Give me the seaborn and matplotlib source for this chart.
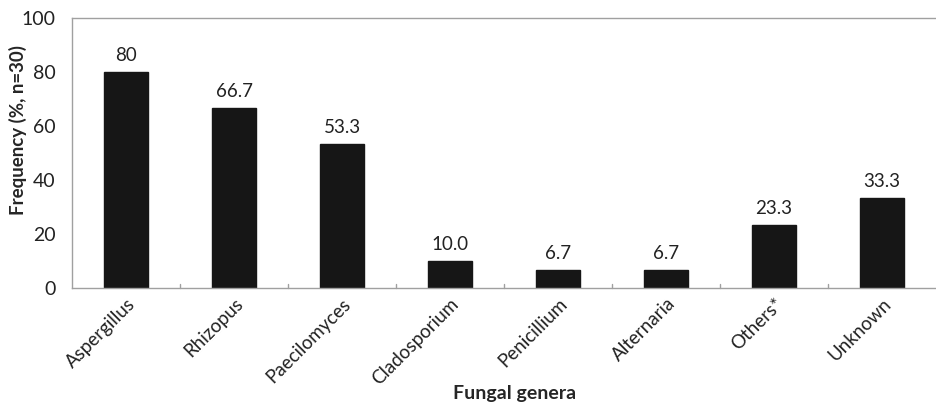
import matplotlib
matplotlib.use("Agg")
import matplotlib.pyplot as plt
import seaborn as sns
import pandas as pd

# Data
genera = ["Aspergillus", "Rhizopus", "Paecilomyces", "Cladosporium",
          "Penicillium", "Alternaria", "Others*", "Unknown"]
frequency = [80, 66.7, 53.3, 10.0, 6.7, 6.7, 23.3, 33.3]
value_labels = ["80", "66.7", "53.3", "10.0", "6.7", "6.7", "23.3", "33.3"]
y_ticks = [0, 20, 40, 60, 80, 100]

sns.set_theme(style="white")
plt.rcParams["font.family"] = ["Lato", "DejaVu Sans"]

BAR_COLOR = "#161616"
SPINE_COLOR = "#a0a0a0"

df = pd.DataFrame({"genus": genera, "freq": frequency})

fig = plt.figure(figsize=(9.37, 4.04), dpi=100)
ax = fig.add_axes([0.077, 0.287, 0.922, 0.668])

sns.barplot(data=df, x="genus", y="freq", color=BAR_COLOR,
            edgecolor=BAR_COLOR, width=0.41, saturation=1, ax=ax)

# value labels above bars
for p, txt in zip(ax.patches, value_labels):
    ax.annotate(txt, (p.get_x() + p.get_width() / 2, p.get_height()),
                xytext=(0, 6), textcoords="offset points",
                ha="center", va="bottom", fontsize=13.5, color="#222222")

ax.set_ylim(0, 100)
ax.set_yticks(y_ticks)
ax.set_xlim(-0.5, len(genera) - 0.5)
ax.set_yticklabels([str(t) for t in y_ticks], fontsize=14, color="#222222")
ax.set_xticks(range(len(genera)))
ax.set_xticklabels(genera, rotation=45, ha="right", rotation_mode="anchor",
                   fontsize=13.5, color="#222222")
ax.tick_params(axis="x", length=0, pad=5)
ax.tick_params(axis="y", length=0, pad=12)

# small tick marks between categories, like the original
for i in range(1, len(genera)):
    ax.plot([i - 0.5, i - 0.5], [0, 1.6], color=SPINE_COLOR, lw=1,
            clip_on=False)

for side in ["left", "bottom", "top"]:
    ax.spines[side].set_color(SPINE_COLOR)
    ax.spines[side].set_linewidth(1)
ax.spines["right"].set_visible(False)

ax.set_xlabel("Fungal genera", fontsize=14, fontweight="bold")
ax.set_ylabel("Frequency (%, n=30)", fontsize=13.5, fontweight="bold")
ax.xaxis.set_label_coords(0.512, -0.36)
ax.yaxis.set_label_coords(-0.052, 0.585)

fig.savefig("out.png", dpi=100)
plt.close(fig)
